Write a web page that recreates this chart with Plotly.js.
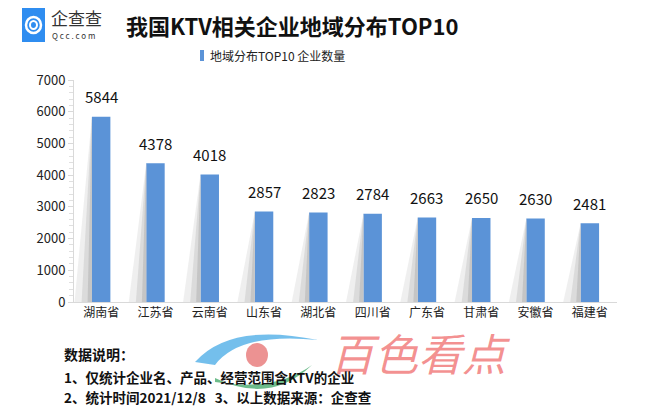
<!DOCTYPE html>
<html><head><meta charset="utf-8">
<script src="https://cdn.plot.ly/plotly-3.0.1.min.js"></script>
<style>html,body{margin:0;padding:0;background:#fff}#chart{width:656px;height:416px}</style>
</head><body><div id="chart"></div>
<script>
const provinces = ['湖南省','江苏省','云南省','山东省','湖北省','四川省','广东省','甘肃省','安徽省','福建省'];
const counts = [5844, 4378, 4018, 2857, 2823, 2784, 2663, 2650, 2630, 2481];
const yTicks = [0, 1000, 2000, 3000, 4000, 5000, 6000, 7000];
const seriesName = '地域分布TOP10 企业数量';
const titleText = '我国KTV相关企业地域分布TOP10';
const noteLines = ['数据说明：', '1、仅统计企业名、产品、经营范围含KTV的企业', '2、统计时间2021/12/8&nbsp;&nbsp;&nbsp;3、以上数据来源：企查查'];

const FONT = '"Noto Sans CJK SC", "Noto Sans", sans-serif';
const idx = provinces.map((_, i) => i);
const halfBar = 0.17;

const traces = [];
// shadow wedges left of each bar (layered to imitate a soft gradient)
const layers = [[0.49, 'rgba(225,225,225,0.55)'], [0.36, 'rgba(195,195,195,0.45)'], [0.25, 'rgba(170,170,170,0.45)']];
counts.forEach((v, i) => {
  layers.forEach(([off, col]) => {
    traces.push({
      type: 'scatter', mode: 'none',
      x: [i - off, i - halfBar, i - halfBar, i - off],
      y: [0, v, 0, 0],
      fill: 'toself', fillcolor: col,
      hoverinfo: 'skip', showlegend: false
    });
  });
});
traces.push({
  type: 'bar', x: idx, y: counts, name: seriesName,
  width: halfBar * 2,
  marker: {color: '#5b93d7'},
  showlegend: false, hoverinfo: 'x+y'
});

const annotations = counts.map((v, i) => ({
  x: i, y: v, xref: 'x', yref: 'y', text: String(v), showarrow: false,
  yshift: 20, font: {family: FONT, size: 15, color: '#111'}
}));
const extra = [
  {x: 292, y: 25, text: '<b>' + titleText + '</b>', size: 22, color: '#111', xanchor: 'center'},
  {x: 208, y: 55, text: seriesName, size: 12, color: '#222', xanchor: 'left'},
  {x: 49, y: 18, text: '企查查', size: 17, color: '#333', xanchor: 'left'},
  {x: 50, y: 35, text: 'Q c c . c o m', size: 8, color: '#333', xanchor: 'left'},
  {x: 420, y: 352, text: '<i>百色看点</i>', size: 44, color: 'rgba(236,70,70,0.6)', xanchor: 'center'},
  {x: 62, y: 354, text: '<b>' + noteLines[0] + '</b>', size: 14, color: '#111', xanchor: 'left'},
  {x: 62, y: 377, text: '<b>' + noteLines[1] + '</b>', size: 13.5, color: '#111', xanchor: 'left'},
  {x: 62, y: 397, text: '<b>' + noteLines[2] + '</b>', size: 13.5, color: '#111', xanchor: 'left'}
];
const W = 656, H = 416, L = 74, R = 39, T = 80, B = 114;
const pw = W - L - R, ph = H - T - B;
const px = x => (x - L) / pw;
const py = y => (H - B - y) / ph;
extra.forEach(e => annotations.push({
  xref: 'paper', yref: 'paper', x: px(e.x), y: py(e.y), xanchor: e.xanchor, yanchor: 'middle',
  text: e.text, showarrow: false, font: {family: FONT, size: e.size, color: e.color}
}));

const shapes = [
  {type: 'rect', xref: 'paper', yref: 'paper', x0: px(200), x1: px(204), y0: py(61), y1: py(50), fillcolor: '#5b93d7', line: {width: 0}},
  {type: 'rect', xref: 'paper', yref: 'paper', x0: px(22), x1: px(45), y0: py(42), y1: py(8), fillcolor: '#2f8df0', line: {width: 0}},
  {type: 'circle', xref: 'paper', yref: 'paper', x0: px(26), x1: px(41), y0: py(33), y1: py(17), line: {color: '#fff', width: 2.5}},
  {type: 'circle', xref: 'paper', yref: 'paper', x0: px(30), x1: px(37), y0: py(29), y1: py(21), line: {color: '#fff', width: 2}},
  {type: 'path', xref: 'paper', yref: 'paper', layer: 'below',
   path: `M ${px(195)},${py(362)} Q ${px(230)},${py(322)} ${px(318)},${py(340)} Q ${px(240)},${py(332)} ${px(215)},${py(365)} Z`,
   fillcolor: 'rgba(70,170,230,0.75)', line: {width: 0}},
  {type: 'path', xref: 'paper', yref: 'paper', layer: 'below',
   path: `M ${px(215)},${py(378)} Q ${px(270)},${py(405)} ${px(312)},${py(365)} Q ${px(275)},${py(392)} ${px(215)},${py(382)} Z`,
   fillcolor: 'rgba(60,165,100,0.75)', line: {width: 0}},
  {type: 'circle', xref: 'paper', yref: 'paper', layer: 'below', x0: px(246), x1: px(268), y0: py(367), y1: py(343), fillcolor: 'rgba(230,110,110,0.75)', line: {width: 0}}
];

const layout = {
  width: W, height: H,
  margin: {l: L, r: R, t: T, b: B, pad: 0},
  paper_bgcolor: '#fff', plot_bgcolor: '#fff',
  font: {family: FONT, size: 13, color: '#222'},
  showlegend: false,
  xaxis: {
    range: [-0.5, 9.5], tickvals: idx, ticktext: provinces,
    showgrid: false, zeroline: false, showline: true, linecolor: '#d9d9d9', linewidth: 1,
    ticks: '', tickfont: {family: FONT, size: 12, color: '#222'}, fixedrange: true
  },
  yaxis: {
    range: [0, 7000], tickvals: yTicks, showgrid: false, zeroline: false,
    showline: true, linecolor: '#d9d9d9', linewidth: 1,
    ticks: 'outside', ticklen: 5, tickcolor: '#d9d9d9',
    minor: {dtick: 200, ticks: 'outside', ticklen: 4, tickcolor: '#e0e0e0', showgrid: false},
    tickfont: {family: FONT, size: 13, color: '#222'}, fixedrange: true
  },
  annotations: annotations,
  shapes: shapes
};
Plotly.newPlot('chart', traces, layout, {displayModeBar: false, staticPlot: true});
</script></body></html>
